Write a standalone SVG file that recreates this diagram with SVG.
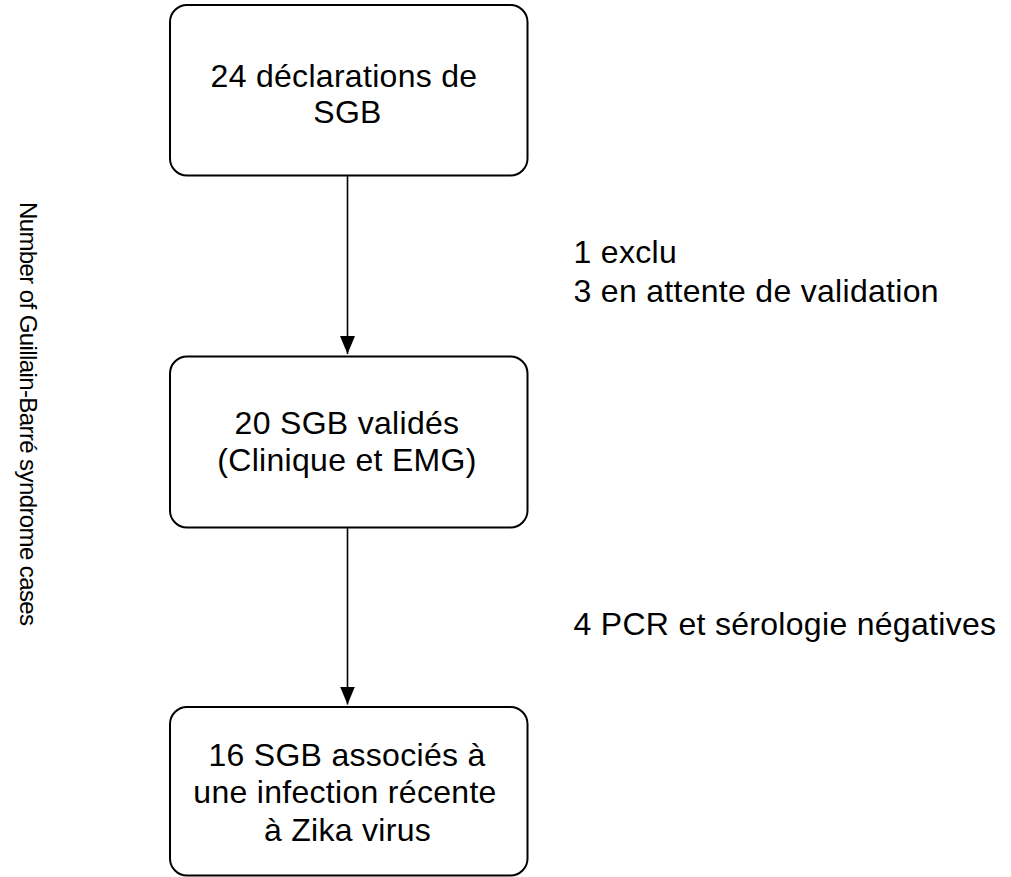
<svg xmlns="http://www.w3.org/2000/svg" width="1011" height="877" viewBox="0 0 1011 877">
<style>
  .box { fill: #ffffff; stroke: #000000; stroke-width: 2; }
  .lbl { font-family: "Liberation Sans", Arial, Helvetica, sans-serif; font-size: 32px; letter-spacing: 0.3px; fill: #000000; }
  .mid { text-anchor: middle; }
  .conn { stroke: #000000; stroke-width: 1.6; fill: none; }
  .axis { font-family: "Liberation Sans", Arial, Helvetica, sans-serif; font-size: 24px; letter-spacing: -0.6px; fill: #000000; }
</style>
<defs>
  <marker id="arrow" markerWidth="18" markerHeight="16" refX="18" refY="7.5" orient="auto" markerUnits="userSpaceOnUse">
    <path d="M0,0 L18,7.5 L0,15 Z" fill="#000000"/>
  </marker>
</defs>
<rect width="1011" height="877" fill="#ffffff"/>
<g id="axis-label">
  <text class="axis" transform="translate(19.5,202) rotate(90)" x="0" y="0">Number of Guillain-Barré syndrome cases</text>
</g>
<g id="connectors">
  <line class="conn" x1="347.5" y1="176" x2="347.5" y2="354" marker-end="url(#arrow)"/>
  <line class="conn" x1="347.5" y1="528" x2="347.5" y2="704.5" marker-end="url(#arrow)"/>
</g>
<g id="node-declarations">
  <rect class="box" x="170" y="5" width="357.5" height="170.5" rx="17" ry="17"/>
  <text class="lbl mid" x="344" y="86.5">24 déclarations de</text>
  <text class="lbl mid" x="347.5" y="123">SGB</text>
</g>
<g id="node-valides">
  <rect class="box" x="170" y="356.5" width="357.5" height="171" rx="17" ry="17"/>
  <text class="lbl mid" x="347" y="433.5">20 SGB validés</text>
  <text class="lbl mid" x="347" y="470.5">(Clinique et EMG)</text>
</g>
<g id="node-zika">
  <rect class="box" x="170" y="707" width="357.5" height="168.5" rx="17" ry="17"/>
  <text class="lbl mid" x="347" y="765.5">16 SGB associés à</text>
  <text class="lbl mid" x="345" y="803">une infection récente</text>
  <text class="lbl mid" x="347.5" y="840.5">à Zika virus</text>
</g>
<g id="note-exclus">
  <text class="lbl" x="573.5" y="262.5">1 exclu</text>
  <text class="lbl" x="573.5" y="301.5">3 en attente de validation</text>
</g>
<g id="note-negatives">
  <text class="lbl" x="573.5" y="635">4 PCR et sérologie négatives</text>
</g>
</svg>
